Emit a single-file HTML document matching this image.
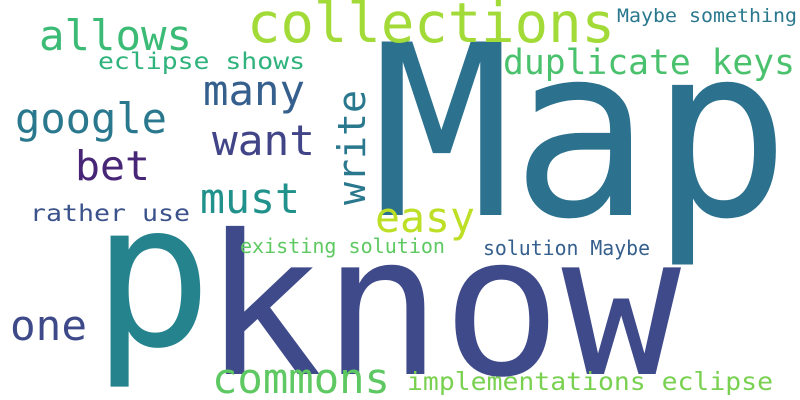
<!DOCTYPE html>
<html><head><meta charset="utf-8"><style>
html,body{margin:0;padding:0;background:#fff;}
svg{display:block;}
text{font-family:"DejaVu Sans Mono","Liberation Mono",monospace;}
</style></head><body>
<svg width="800" height="400" viewBox="0 0 800 400">
<rect width="800" height="400" fill="#fff"/>
<text x="372" y="215" font-size="238" fill="#2c718e" textLength="418" lengthAdjust="spacingAndGlyphs">Map</text>
<text x="92" y="345" font-size="200" fill="#25838e">p</text>
<text x="203" y="374" font-size="195" fill="#3f4a8a" textLength="478" lengthAdjust="spacingAndGlyphs">know</text>
<text x="247" y="42" font-size="55" fill="#a2da37" textLength="368" lengthAdjust="spacingAndGlyphs">collections</text>
<text x="39" y="50" font-size="42" fill="#3bbb75" textLength="153" lengthAdjust="spacingAndGlyphs">allows</text>
<text x="617" y="22" font-size="19" fill="#2a788e" textLength="180" lengthAdjust="spacingAndGlyphs">Maybe something</text>
<text x="98" y="69" font-size="23" fill="#2eb37c" textLength="207" lengthAdjust="spacingAndGlyphs">eclipse shows</text>
<text x="503" y="74" font-size="35" fill="#4ac16d" textLength="292" lengthAdjust="spacingAndGlyphs">duplicate keys</text>
<text x="203" y="105" font-size="42" fill="#355f8d" textLength="102" lengthAdjust="spacingAndGlyphs">many</text>
<text x="15" y="133" font-size="42" fill="#2a788e" textLength="152" lengthAdjust="spacingAndGlyphs">google</text>
<text x="212" y="155" font-size="42" fill="#414487" textLength="103" lengthAdjust="spacingAndGlyphs">want</text>
<text transform="translate(365,205) rotate(-90)" font-size="38" fill="#2a788e" textLength="115" lengthAdjust="spacingAndGlyphs">write</text>
<text x="75" y="180" font-size="41" fill="#482677" textLength="75" lengthAdjust="spacingAndGlyphs">bet</text>
<text x="200" y="213" font-size="42" fill="#21918c" textLength="100" lengthAdjust="spacingAndGlyphs">must</text>
<text x="375" y="232" font-size="42" fill="#bddf26" textLength="100" lengthAdjust="spacingAndGlyphs">easy</text>
<text x="30" y="221" font-size="23" fill="#3b528b" textLength="160" lengthAdjust="spacingAndGlyphs">rather use</text>
<text x="240" y="253" font-size="20" fill="#5ec962" textLength="205" lengthAdjust="spacingAndGlyphs">existing solution</text>
<text x="483" y="255" font-size="20" fill="#355f8d" textLength="167" lengthAdjust="spacingAndGlyphs">solution Maybe</text>
<text x="10" y="340" font-size="42" fill="#3e4989" textLength="77" lengthAdjust="spacingAndGlyphs">one</text>
<text x="212" y="393" font-size="42" fill="#5ec962" textLength="178" lengthAdjust="spacingAndGlyphs">commons</text>
<text x="407" y="390" font-size="25" fill="#7ad151" textLength="366" lengthAdjust="spacingAndGlyphs">implementations eclipse</text>
</svg>
</body></html>
